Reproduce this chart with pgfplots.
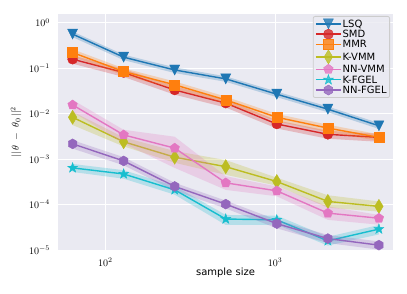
\documentclass[border=0pt]{standalone}
\usepackage{pgfplots}
\pgfplotsset{compat=1.18}
\usetikzlibrary{plotmarks}
\usepackage{fontspec}
\newfontfamily\dejavu{DejaVu Sans}

\definecolor{bgcol}{HTML}{EAEAF2}
\definecolor{cblue}{HTML}{1F77B4}
\definecolor{cred}{HTML}{D62728}
\definecolor{corange}{HTML}{FF7F0E}
\definecolor{colive}{HTML}{BCBD22}
\definecolor{cpink}{HTML}{E377C2}
\definecolor{ccyan}{HTML}{17BECF}
\definecolor{cpurple}{HTML}{9467BD}

% matplotlib-like marks
\pgfdeclareplotmark{tridown}{%
  \pgfpathmoveto{\pgfpoint{0pt}{-\pgfplotmarksize}}%
  \pgfpathlineto{\pgfpoint{\pgfplotmarksize}{\pgfplotmarksize}}%
  \pgfpathlineto{\pgfpoint{-\pgfplotmarksize}{\pgfplotmarksize}}%
  \pgfpathclose\pgfusepathqfillstroke}
\pgfdeclareplotmark{sq}{%
  \pgfpathrectangle{\pgfpoint{-\pgfplotmarksize}{-\pgfplotmarksize}}{\pgfpoint{2\pgfplotmarksize}{2\pgfplotmarksize}}%
  \pgfusepathqfillstroke}
\pgfdeclareplotmark{thindiamond}{%
  \pgfpathmoveto{\pgfpoint{0pt}{1.414\pgfplotmarksize}}%
  \pgfpathlineto{\pgfpoint{0.85\pgfplotmarksize}{0pt}}%
  \pgfpathlineto{\pgfpoint{0pt}{-1.414\pgfplotmarksize}}%
  \pgfpathlineto{\pgfpoint{-0.85\pgfplotmarksize}{0pt}}%
  \pgfpathclose\pgfusepathqfillstroke}
\pgfdeclareplotmark{pent}{%
  \pgfpathmoveto{\pgfpointpolar{90}{\pgfplotmarksize}}%
  \pgfpathlineto{\pgfpointpolar{162}{\pgfplotmarksize}}%
  \pgfpathlineto{\pgfpointpolar{234}{\pgfplotmarksize}}%
  \pgfpathlineto{\pgfpointpolar{306}{\pgfplotmarksize}}%
  \pgfpathlineto{\pgfpointpolar{18}{\pgfplotmarksize}}%
  \pgfpathclose\pgfusepathqfillstroke}
\pgfdeclareplotmark{hexa}{%
  \pgfpathmoveto{\pgfpointpolar{90}{\pgfplotmarksize}}%
  \pgfpathlineto{\pgfpointpolar{150}{\pgfplotmarksize}}%
  \pgfpathlineto{\pgfpointpolar{210}{\pgfplotmarksize}}%
  \pgfpathlineto{\pgfpointpolar{270}{\pgfplotmarksize}}%
  \pgfpathlineto{\pgfpointpolar{330}{\pgfplotmarksize}}%
  \pgfpathlineto{\pgfpointpolar{30}{\pgfplotmarksize}}%
  \pgfpathclose\pgfusepathqfillstroke}
\pgfdeclareplotmark{fstar}{%
  \pgfpathmoveto{\pgfpointpolar{90}{1.05\pgfplotmarksize}}%
  \pgfpathlineto{\pgfpointpolar{126}{0.42\pgfplotmarksize}}%
  \pgfpathlineto{\pgfpointpolar{162}{1.05\pgfplotmarksize}}%
  \pgfpathlineto{\pgfpointpolar{198}{0.42\pgfplotmarksize}}%
  \pgfpathlineto{\pgfpointpolar{234}{1.05\pgfplotmarksize}}%
  \pgfpathlineto{\pgfpointpolar{270}{0.42\pgfplotmarksize}}%
  \pgfpathlineto{\pgfpointpolar{306}{1.05\pgfplotmarksize}}%
  \pgfpathlineto{\pgfpointpolar{342}{0.42\pgfplotmarksize}}%
  \pgfpathlineto{\pgfpointpolar{18}{1.05\pgfplotmarksize}}%
  \pgfpathlineto{\pgfpointpolar{54}{0.42\pgfplotmarksize}}%
  \pgfpathclose\pgfusepathqfillstroke}

\begin{document}
\begin{tikzpicture}
\path[use as bounding box] (-58pt,-44pt) rectangle (349pt,250pt);
\begin{axis}[
  at={(0,0)}, anchor=south west,
  scale only axis, width=335pt, height=236pt,
  xmode=log, ymode=log,
  xmin=52.5, xmax=4960, ymin=1e-5, ymax=1.55,
  xtick={100,1000}, ytick={1e-5,1e-4,1e-3,1e-2,1e-1,1},
  xminorticks=false, yminorticks=false,
  major tick length=0pt,
  axis line style={draw=none},
  axis background/.style={fill=bgcol},
  grid=major, major grid style={white, line width=0.9pt},
  yticklabel style={xshift=-4.5pt},
  xticklabel style={yshift=-4.5pt},
  ylabel={$||\,\theta\;-\;\theta_0\,||^2$},
  ylabel style={at={(axis description cs:-0.125,0.5)}, anchor=center},
  xlabel={\dejavu sample size},
  xlabel style={at={(axis description cs:0.5,-0.0975)}, anchor=center},
  every axis plot/.append style={line width=1.4pt, mark size=5pt, mark options={solid, line width=0.4pt}},
  band/.style={draw=none, fill opacity=0.25, forget plot},
  legend image code/.code={\draw[mark repeat=2,mark phase=2] plot coordinates {(0cm,0cm) (0.44cm,0cm) (0.88cm,0cm)};},
  legend cell align=left,
  legend style={at={(1,1)}, anchor=north east, xshift=-3pt, yshift=-2pt,
    fill=bgcol, fill opacity=0.8, text opacity=1, draw=black!20, line width=0.8pt,
    rounded corners=2pt, font=\dejavu, row sep=0.3pt,
    nodes={inner sep=1pt, text height=7.5pt, text depth=0.5pt},
    inner xsep=2pt, inner ysep=2.5pt},
]
% LSQ
\addplot[band, fill=cblue] coordinates {(64,0.64)(128,0.198)(256,0.104)(512,0.066)(1024,0.0305)(2048,0.0143)(4096,0.0062)(4096,0.0046)(2048,0.0107)(1024,0.023)(512,0.05)(256,0.078)(128,0.15)(64,0.48)} -- cycle;
\addplot[cblue, mark=tridown] coordinates {(64,0.56)(128,0.174)(256,0.091)(512,0.058)(1024,0.0267)(2048,0.0125)(4096,0.0054)};
\addlegendentry{LSQ}
% SMD
\addplot[band, fill=cred] coordinates {(64,0.19)(128,0.096)(256,0.040)(512,0.0204)(1024,0.0071)(2048,0.0042)(4096,0.0036)(4096,0.0024)(2048,0.0028)(1024,0.0047)(512,0.0136)(256,0.026)(128,0.064)(64,0.125)} -- cycle;
\addplot[cred, mark=*] coordinates {(64,0.157)(128,0.080)(256,0.033)(512,0.017)(1024,0.0059)(2048,0.0035)(4096,0.0030)};
\addlegendentry{SMD}
% MMR
\addplot[band, fill=corange] coordinates {(64,0.26)(128,0.099)(256,0.051)(512,0.0236)(1024,0.0098)(2048,0.0057)(4096,0.0035)(4096,0.0025)(2048,0.0039)(1024,0.0068)(512,0.0164)(256,0.035)(128,0.069)(64,0.18)} -- cycle;
\addplot[corange, mark=sq] coordinates {(64,0.22)(128,0.084)(256,0.043)(512,0.020)(1024,0.0083)(2048,0.0048)(4096,0.0030)};
\addlegendentry{MMR}
% K-VMM
\addplot[band, fill=colive] coordinates {(64,0.0110)(128,0.0030)(256,0.0015)(512,0.00095)(1024,0.00039)(2048,0.00016)(4096,0.000117)(4096,0.00007)(2048,0.000085)(1024,0.00026)(512,0.00045)(256,0.00083)(128,0.0019)(64,0.0056)} -- cycle;
\addplot[colive, mark=thindiamond] coordinates {(64,0.0083)(128,0.0024)(256,0.0011)(512,0.00068)(1024,0.00032)(2048,0.000117)(4096,0.000091)};
\addlegendentry{K-VMM}
% NN-VMM
\addplot[band, fill=cpink] coordinates {(64,0.020)(128,0.0044)(256,0.0031)(512,0.00042)(1024,0.00025)(2048,0.000091)(4096,0.000059)(4096,0.000036)(2048,0.000046)(1024,0.000152)(512,0.00021)(256,0.00064)(128,0.0022)(64,0.011)} -- cycle;
\addplot[cpink, mark=pent] coordinates {(64,0.0155)(128,0.0034)(256,0.00174)(512,0.00030)(1024,0.00020)(2048,0.0000647)(4096,0.000050)};
\addlegendentry{NN-VMM}
% K-FGEL
\addplot[band, fill=ccyan] coordinates {(64,0.00078)(128,0.00057)(256,0.000255)(512,0.000059)(1024,0.000057)(2048,0.0000195)(4096,0.0000355)(4096,0.000022)(2048,0.0000125)(1024,0.000036)(512,0.0000355)(256,0.000165)(128,0.00037)(64,0.00052)} -- cycle;
\addplot[ccyan, mark=fstar] coordinates {(64,0.00064)(128,0.00047)(256,0.00021)(512,0.000048)(1024,0.000046)(2048,0.0000159)(4096,0.0000288)};
\addlegendentry{K-FGEL}
% NN-FGEL
\addplot[band, fill=cpurple] coordinates {(64,0.0026)(128,0.0011)(256,0.0003)(512,0.000122)(1024,0.000046)(2048,0.0000214)(4096,0.0000154)(4096,0.0000102)(2048,0.0000142)(1024,0.00003)(512,0.000082)(256,0.0002)(128,0.00073)(64,0.0017)} -- cycle;
\addplot[cpurple, mark=hexa] coordinates {(64,0.00216)(128,0.00091)(256,0.00025)(512,0.000102)(1024,0.000038)(2048,0.0000178)(4096,0.0000128)};
\addlegendentry{NN-FGEL}
\end{axis}
\end{tikzpicture}
\end{document}
